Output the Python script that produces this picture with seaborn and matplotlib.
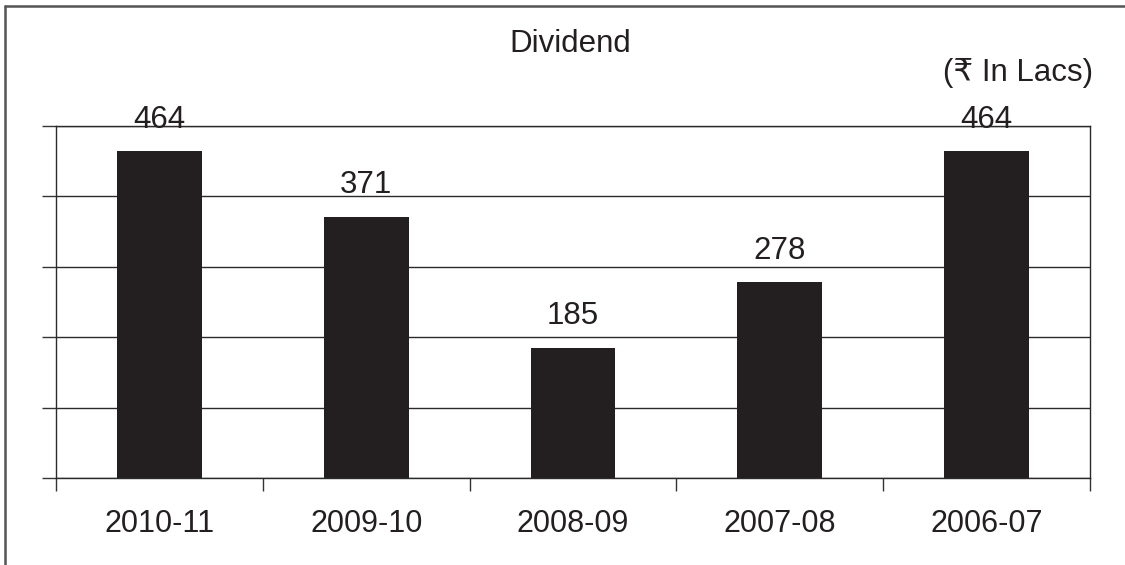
import matplotlib
matplotlib.use("Agg")
import matplotlib.pyplot as plt
from matplotlib.lines import Line2D
import seaborn as sns
import pandas as pd

# Dividend paid per financial year (Rs. in lacs)
years = ["2010-11", "2009-10", "2008-09", "2007-08", "2006-07"]
dividend = [464, 371, 185, 278, 464]
grid_values = [0, 100, 200, 300, 400, 500]

sns.set_style("white")
plt.rcParams["font.family"] = ["Liberation Sans", "DejaVu Sans"]

ink = "#231f20"
df = pd.DataFrame({"year": years, "dividend": dividend})

fig = plt.figure(figsize=(11.25, 5.65), dpi=100)
ax = fig.add_axes([0.0498, 0.154, 0.9191, 0.623])

sns.barplot(data=df, x="year", y="dividend", color=ink, width=0.41,
            saturation=1, ax=ax, edgecolor="none")

ax.set_xlim(-0.5, len(years) - 0.5)
ax.set_ylim(grid_values[0], grid_values[-1])
ax.set_yticks(grid_values)
ax.set_yticklabels([])
ax.yaxis.grid(True, color="#2a2a2a", linewidth=1.0)
ax.set_axisbelow(True)

# category labels at bar centres, boundary ticks between categories
ax.set_xticks(range(len(years)))
ax.set_xticklabels(years, fontsize=22, color=ink)
ax.tick_params(axis="x", which="major", length=0, pad=22)
ax.set_xticks([i - 0.5 for i in range(len(years) + 1)], minor=True)
ax.tick_params(axis="x", which="minor", length=9, width=1.0, color="#333333",
               direction="out", bottom=True)
ax.tick_params(axis="y", length=10, width=1.0, color="#333333", left=True,
               direction="out")

for side in ["left", "right", "top", "bottom"]:
    ax.spines[side].set_visible(True)
    ax.spines[side].set_color("#2a2a2a")
    ax.spines[side].set_linewidth(1.0)

ax.set_xlabel("")
ax.set_ylabel("")

for cont in ax.containers:
    ax.bar_label(cont, labels=[str(v) for v in dividend], padding=12,
                 fontsize=22.5, color=ink)

fig.text(0.507, 0.922, "Dividend", ha="center", va="center", fontsize=22.5,
         color=ink)
fig.text(0.972, 0.871, "(₹ In Lacs)", ha="right", va="center", fontsize=22.5,
         color=ink, family=["Liberation Sans", "DejaVu Sans"])

# outer frame on the left and top
fig.add_artist(Line2D([0.0045, 0.0045], [0.0, 0.989], color="#555555",
                      linewidth=1.8, transform=fig.transFigure))
fig.add_artist(Line2D([0.0045, 1.0], [0.989, 0.989], color="#555555",
                      linewidth=1.8, transform=fig.transFigure))

fig.savefig("out.png", dpi=100, facecolor="white")
